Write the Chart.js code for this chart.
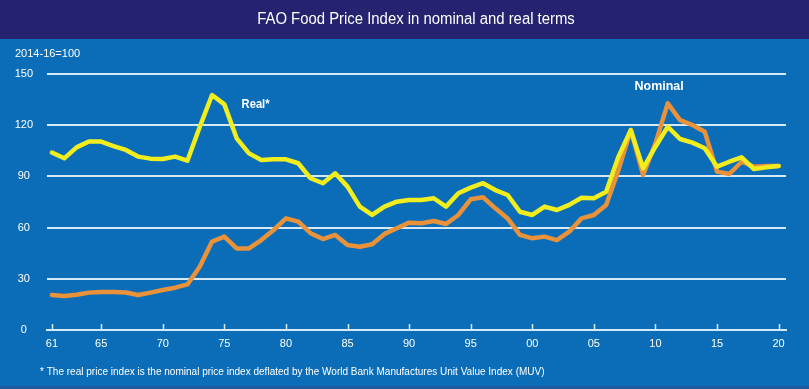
<!DOCTYPE html>
<html>
<head>
<meta charset="utf-8">
<script src="https://cdn.jsdelivr.net/npm/chart.js@4.4.1/dist/chart.umd.min.js"></script>
<style>
    html, body { margin: 0; padding: 0; background: #0b6db7; }
    #wrap { width: 809px; height: 389px; }
</style>
</head>
<body>
<div id="wrap"><canvas id="fpiChart"></canvas></div>
<script>
const years = [1961, 1962, 1963, 1964, 1965, 1966, 1967, 1968, 1969, 1970,
    1971, 1972, 1973, 1974, 1975, 1976, 1977, 1978, 1979, 1980,
    1981, 1982, 1983, 1984, 1985, 1986, 1987, 1988, 1989, 1990,
    1991, 1992, 1993, 1994, 1995, 1996, 1997, 1998, 1999, 2000,
    2001, 2002, 2003, 2004, 2005, 2006, 2007, 2008, 2009, 2010,
    2011, 2012, 2013, 2014, 2015, 2016, 2017, 2018, 2019, 2020];

const real = [104, 100.6, 107, 110.4, 110.4, 107.8, 105.5, 101.6, 100.4, 100.2,
    101.6, 99.2, 119, 137.7, 132.2, 112.3, 103.5, 99.6, 100, 100,
    97.7, 88.9, 86, 91.8, 84, 72.3, 67.4, 72.3, 75.2, 76.2,
    76.2, 77.2, 72.3, 80.1, 83.4, 86, 82, 79.1, 69.3, 67.4,
    72.3, 70.3, 73.3, 77.5, 77.2, 81, 101.6, 117.2, 94.7, 107.4,
    119.1, 111.9, 109.8, 106.5, 95.7, 98.6, 101.2, 94.3, 95.3, 96.1];

const nominal = [20.5, 19.9, 20.7, 21.9, 22.2, 22.3, 22, 20.5, 21.9, 23.4,
    24.8, 26.7, 37.1, 51.8, 54.7, 47.8, 47.8, 52.7, 58.6, 65.4,
    63.5, 56.7, 53.3, 55.7, 49.8, 48.8, 50.2, 56.3, 59.6, 62.9,
    62.5, 63.9, 62.1, 67.4, 76.6, 77.8, 71.3, 65.4, 55.7, 53.7,
    54.7, 52.7, 57.6, 65.4, 67.4, 73.3, 93.8, 117.2, 90.8, 109.4,
    132.8, 123, 120.1, 116.2, 92.8, 91.4, 98.6, 95.7, 96.1, 96.1];

const tickYears = [1961, 1965, 1970, 1975, 1980, 1985, 1990, 1995, 2000, 2005, 2010, 2015, 2020];
const tickLabels = ['61', '65', '70', '75', '80', '85', '90', '95', '00', '05', '10', '15', '20'];

const FONT = "'Liberation Sans Narrow', 'Liberation Sans', 'DejaVu Sans', sans-serif";
const WHITE = '#ffffff';
const GRID = '#d4eaf9';

// draw text squeezed horizontally, the reference uses a condensed face
function narrowText(c, text, x, y, font, squeeze, align) {
    c.save();
    c.font = font;
    c.textAlign = align || 'left';
    c.textBaseline = 'middle';
    c.translate(x, y);
    c.scale(squeeze, 1);
    c.fillText(text, 0, 0);
    c.restore();
}

// background bands, title, notes and the small upward x ticks
const decor = {
    id: 'decor',
    beforeDraw(chart) {
        const c = chart.ctx;
        c.save();
        c.fillStyle = '#0b6db7';
        c.fillRect(0, 0, chart.width, chart.height);
        c.fillStyle = '#25236f';
        c.fillRect(0, 0, chart.width, 39);
        c.fillStyle = '#1d5b9a';
        c.fillRect(0, 386, chart.width, 3);
        c.restore();
    },
    afterDatasetsDraw(chart) {
        const c = chart.ctx;
        const x = chart.scales.x, y = chart.scales.y;
        c.fillStyle = WHITE;
        narrowText(c, 'Real*', x.getPixelForValue(1976.4), y.getPixelForValue(132), '600 13px ' + FONT, 0.86);
        narrowText(c, 'Nominal', x.getPixelForValue(2008.3), y.getPixelForValue(143), '600 13px ' + FONT, 0.96);
    },
    afterDraw(chart) {
        const c = chart.ctx;
        const x = chart.scales.x;
        const base = chart.chartArea.bottom;
        c.save();
        c.strokeStyle = GRID;
        c.lineWidth = 1.5;
        tickYears.forEach(v => {
            const px = Math.round(x.getPixelForValue(v)) + 0.5;
            c.beginPath();
            c.moveTo(px, base - 6);
            c.lineTo(px, base);
            c.stroke();
        });
        c.fillStyle = WHITE;
        narrowText(c, 'FAO Food Price Index in nominal and real terms', 416, 20, '16px ' + FONT, 0.93, 'center');
        narrowText(c, '2014-16=100', 15, 54, '11px ' + FONT, 1.0);
        narrowText(c, '* The real price index is the nominal price index deflated by the World Bank Manufactures Unit Value Index (MUV)',
            40, 372, '10.5px ' + FONT, 0.955);
        c.restore();
    }
};

const ctx = document.getElementById('fpiChart');
const chart = new Chart(ctx, {
    type: 'line',
    data: {
        datasets: [{
            label: 'Real*',
            data: years.map((yr, i) => ({x: yr, y: real[i]})),
            borderColor: '#f2ee1e',
            borderWidth: 4.5,
            order: 0
        }, {
            label: 'Nominal',
            data: years.map((yr, i) => ({x: yr, y: nominal[i]})),
            borderColor: '#e9923a',
            borderWidth: 4.5,
            order: 1
        }]
    },
    options: {
        responsive: true,
        maintainAspectRatio: false,
        animation: false,
        layout: {padding: {left: 0, top: 74, right: 23, bottom: 0}},
        elements: {
            point: {radius: 0},
            line: {tension: 0, borderJoinStyle: 'round', borderCapStyle: 'round'}
        },
        plugins: {
            legend: {display: false},
            title: {display: false},
            tooltip: {enabled: false}
        },
        scales: {
            x: {
                type: 'linear',
                min: 1960.6,
                max: 2020.6,
                afterFit(scale) { scale.height = 59; },
                afterBuildTicks(scale) {
                    scale.ticks = tickYears.map(v => ({value: v}));
                },
                grid: {display: false, drawTicks: false},
                border: {display: true, color: GRID, width: 2},
                ticks: {
                    color: WHITE,
                    padding: 7,
                    maxRotation: 0,
                    autoSkip: false,
                    font: {family: FONT, size: 11},
                    callback: (v, i) => tickLabels[i]
                }
            },
            y: {
                min: 0,
                max: 150,
                afterFit(scale) { scale.width = 47; },
                grid: {color: GRID, lineWidth: 2, drawTicks: false},
                border: {display: false},
                ticks: {
                    stepSize: 30,
                    color: WHITE,
                    padding: 14,
                    crossAlign: 'center',
                    font: {family: FONT, size: 11}
                }
            }
        }
    },
    plugins: [decor]
});
</script>
</body>
</html>
